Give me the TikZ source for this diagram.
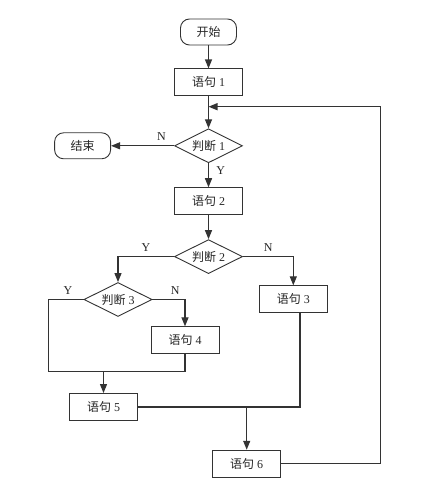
\documentclass[tikz,border=0pt]{standalone}
\usepackage{fontspec}
\setmainfont{Liberation Serif}
\newfontfamily\cjk{Noto Sans CJK SC}
\usetikzlibrary{
    positioning,
    arrows.meta,
    shapes.geometric
}

\begin{document}
\begin{tikzpicture}[
    x=1pt, y=-1pt,
    font=\fontsize{12}{14}\selectfont,
    every node/.style={text=black!85},
    terminal/.style={
        rectangle,
        rounded corners=9pt,
        minimum width=56pt,
        minimum height=26pt,
        draw=black!80,
        line width=0.9pt,
    },
    process/.style={
        rectangle,
        minimum width=68pt,
        minimum height=27pt,
        draw=black!80,
        line width=0.9pt,
    },
    decision/.style={
        diamond,
        aspect=2,
        inner sep=0pt,
        minimum width=68pt,
        minimum height=34pt,
        draw=black!80,
        line width=0.9pt,
    },
    flow/.style={
        draw=black!80,
        line width=1.2pt,
    },
    arrow/.style={
        flow,
        -{Triangle[length=9pt,width=7pt]},
    },
]
    \useasboundingbox (0,0) rectangle (420,494);

    % main column
    \node[terminal] (start) at (208.5,32) {{\cjk 开始}};
    \node[process]  (s1) [below=23pt of start] {{\cjk 语句} 1};
    \node[decision] (d1) [below=32pt of s1] {{\cjk 判断} 1};
    \node[process]  (s2) [below=24pt of d1] {{\cjk 语句} 2};
    \node[decision] (d2) [below=24pt of s2] {{\cjk 判断} 2};
    \node[terminal] (stop) [left=63pt of d1] {{\cjk 结束}};

    % branches
    \node[decision] (d3) at (118,299.5) {{\cjk 判断} 3};
    \node[process]  (s3) at (293.3,299.3) {{\cjk 语句} 3};
    \node[process]  (s4) at (185,340.3) {{\cjk 语句} 4};
    \node[process]  (s5) at (103.5,407) {{\cjk 语句} 5};
    \node[process]  (s6) at (246.7,463.7) {{\cjk 语句} 6};

    \coordinate (back) at (380.7,106.7);
    \coordinate (j3l) at (48.3,371.7);
    \coordinate (j3) at (185,371.7);
    \coordinate (j5) at (246.7,406.7);
    \coordinate (j5r) at (300,406.7);

    \draw[arrow] (start) -- (s1);
    \draw[arrow] (s1) -- (d1);
    \draw[arrow] (d1) -- node[pos=0.2, above=1pt] {N} (stop);
    \draw[arrow] (d1) -- node[pos=0.3, right=4pt] {Y} (s2);
    \draw[arrow] (s2) -- (d2);
    \draw[arrow] (d2.west) -| node[pos=0.25, above=1pt] {Y} (d3.north);
    \draw[arrow] (d2.east) -| node[pos=0.25, above=1pt] {N} (s3.north);
    \draw[arrow] (d3.east) -| node[pos=0.35, above=1pt] {N} (s4.north);
    \draw[flow] (d3.west) -| node[pos=0.22, above=1pt] {Y} (j3l) -| (s4.south);
    \draw[arrow] (s5.north |- j3) -- (s5.north);
    \draw[flow] (s5.east) -| (j5r |- s3.south);
    \draw[arrow] (j5) -- (s6.north);
    \draw[arrow] (s6.east) -| (back) -- (back -| s1.south);

\end{tikzpicture}
\end{document}
